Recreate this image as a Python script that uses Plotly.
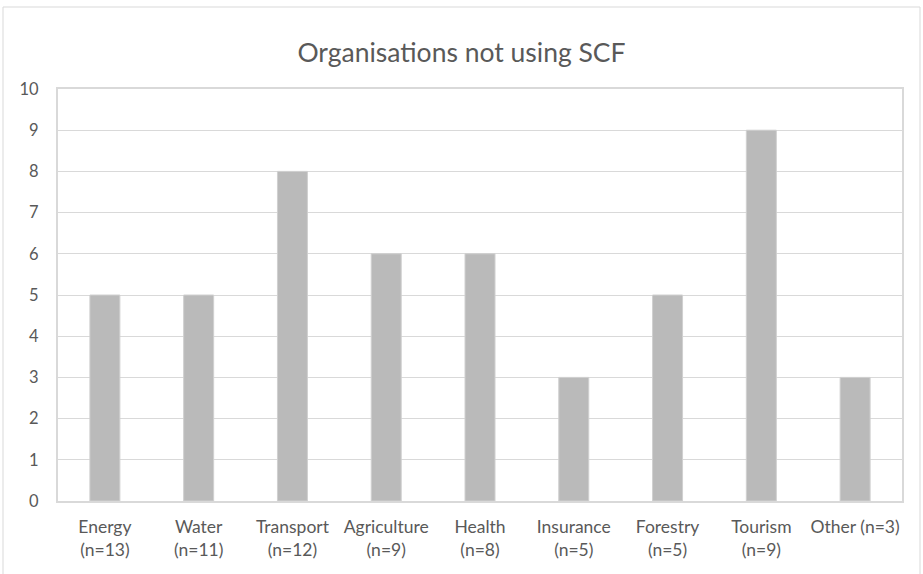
import plotly.graph_objects as go

categories = ["Energy<br>(n=13)", "Water<br>(n=11)", "Transport<br>(n=12)", "Agriculture<br>(n=9)",
              "Health<br>(n=8)", "Insurance<br>(n=5)", "Forestry<br>(n=5)", "Tourism<br>(n=9)", "Other (n=3)"]
values = [5, 5, 8, 6, 6, 3, 5, 9, 3]
title = "Organisations not using SCF"

W, H = 923, 574
ml, mr, mt, mb = 58, 21, 89, 73
pw, ph = W - ml - mr, H - mt - mb

fig = go.Figure(go.Bar(
    x=categories, y=values,
    marker=dict(color="#BABABA", line=dict(color="#D0D0D0", width=1)),
))

grid = "#D9D9D9"
txt = "#595959"
fig.update_layout(
    width=W, height=H,
    margin=dict(l=ml, r=mr, t=mt, b=mb),
    paper_bgcolor="white", plot_bgcolor="white",
    bargap=0.68,
    showlegend=False,
    font=dict(family="Lato, Open Sans, sans-serif", color=txt, size=17),
    title=dict(text=title, x=0.5, xanchor="center", y=1 - 53 / H, yanchor="middle",
               font=dict(size=26.5, color=txt)),
    xaxis=dict(showgrid=False, showline=True, linecolor=grid, linewidth=2, mirror=True,
               ticks="", tickfont=dict(size=17.5, color=txt), ticklabelstandoff=9),
    yaxis=dict(range=[0, 10], dtick=1, showgrid=True, gridcolor=grid, gridwidth=1,
               showline=True, linecolor=grid, linewidth=2, mirror=True, zeroline=False,
               ticks="", tickfont=dict(size=16.5, color=txt), ticklabelstandoff=14),
    shapes=[dict(type="rect", xref="paper", yref="paper",
                 x0=(3 - ml) / pw, x1=(920 - ml) / pw,
                 y0=(H - mb - 590) / ph, y1=(H - mb - 7) / ph,
                 line=dict(color=grid, width=1), fillcolor="rgba(0,0,0,0)", layer="below")],
)

fig.write_html("out.html", config={"displayModeBar": False},
               post_script="document.body.style.margin='0';document.body.style.overflow='hidden';")
